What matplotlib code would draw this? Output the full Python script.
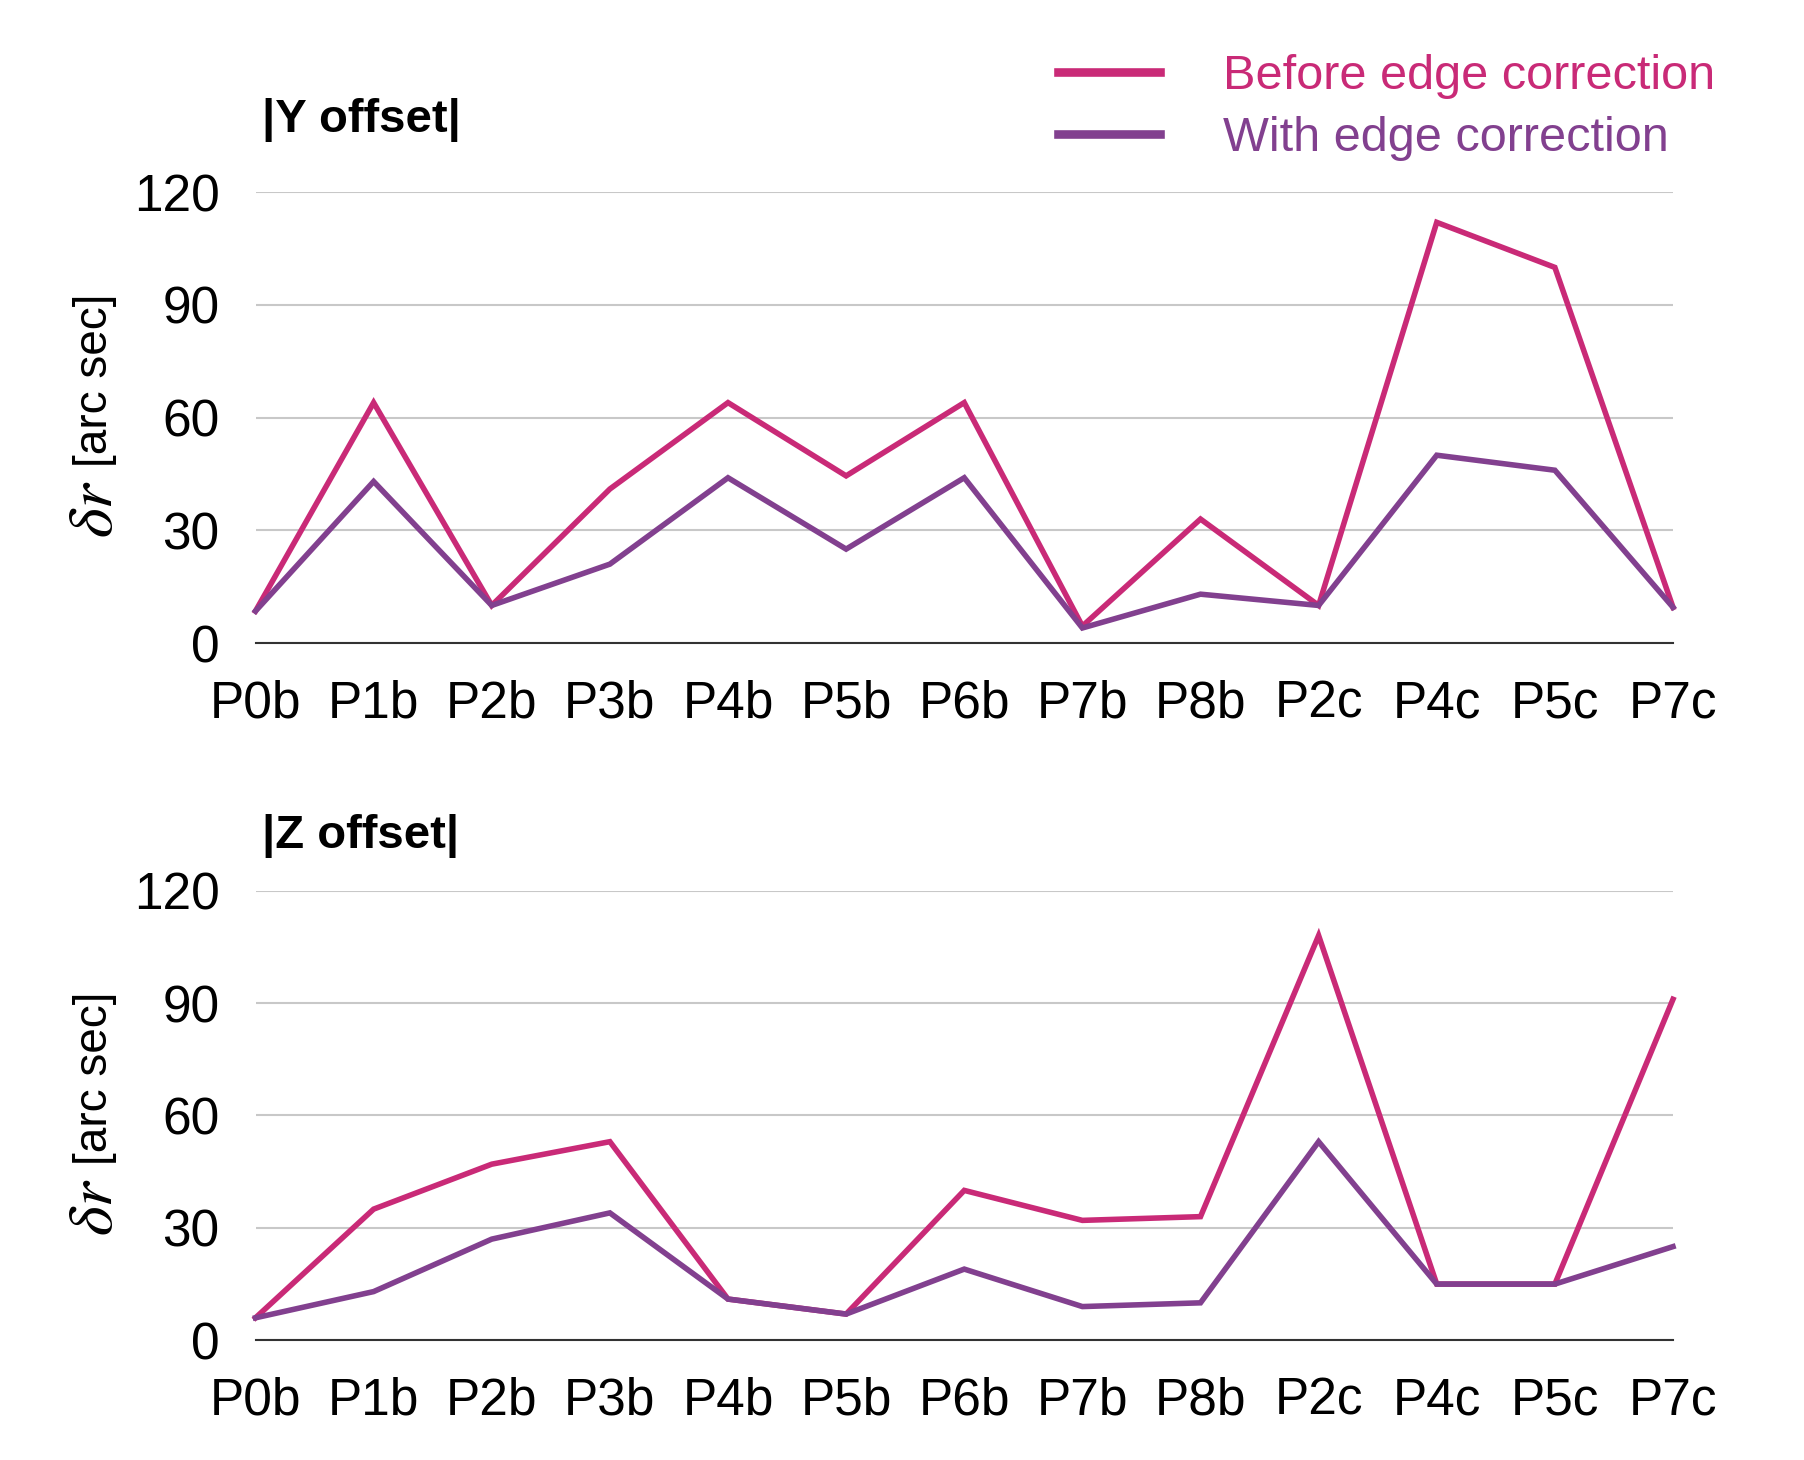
import matplotlib
matplotlib.use("Agg")
import matplotlib.pyplot as plt
from matplotlib.lines import Line2D

categories = ["P0b", "P1b", "P2b", "P3b", "P4b", "P5b", "P6b", "P7b", "P8b", "P2c", "P4c", "P5c", "P7c"]
y_before = [8.5, 64, 10, 41, 64, 44.5, 64, 4.5, 33, 10, 112, 100, 9.5]
y_with = [8.5, 43, 10, 21, 44, 25, 44, 4, 13, 10, 50, 46, 9.5]
z_before = [6, 35, 47, 53, 11, 7, 40, 32, 33, 108, 15, 15, 91]
z_with = [6, 13, 27, 34, 11, 7, 19, 9, 10, 53, 15, 15, 25]
yticks = [0, 30, 60, 90, 120]
titles = ["|Y offset|", "|Z offset|"]
series_labels = ["Before edge correction", "With edge correction"]

C_BEFORE = "#C92A77"
C_WITH = "#82408F"

plt.rcParams['font.family'] = ['Liberation Sans', 'DejaVu Sans']
plt.rcParams['mathtext.fontset'] = 'stix'

W, H = 1804, 1460
fig = plt.figure(figsize=(W / 100, H / 100), dpi=100)

def px_axes(left, right, top, bottom):
    return [left / W, 1 - bottom / H, (right - left) / W, (bottom - top) / H]

panels = [
    (px_axes(255.5, 1673, 192.3, 643), y_before, y_with, titles[0], 120),
    (px_axes(255.5, 1673, 890.6, 1340.3), z_before, z_with, titles[1], 836),
]

x = list(range(len(categories)))
lab_x = (95 - 255.5) / (1673 - 255.5)
for rect, before, with_, title, ty in panels:
    ax = fig.add_axes(rect)
    ax.plot(x, before, color=C_BEFORE, lw=4.0, solid_joinstyle='miter', zorder=3, clip_on=False)
    ax.plot(x, with_, color=C_WITH, lw=4.0, solid_joinstyle='miter', zorder=3, clip_on=False)
    ax.set_xlim(0, len(categories) - 1)
    ax.set_ylim(0, 120)
    ax.set_yticks(yticks)
    ax.set_xticks(x)
    ax.set_xticklabels(categories)
    ax.tick_params(axis='both', length=0, labelsize=37)
    ax.tick_params(axis='y', pad=26)
    ax.tick_params(axis='x', pad=26)
    for s in ['top', 'right', 'left']:
        ax.spines[s].set_visible(False)
    ax.spines['bottom'].set_color('#333333')
    ax.spines['bottom'].set_linewidth(1.5)
    ax.grid(axis='y', color='#C8C8C8', lw=1.5)
    ax.set_axisbelow(True)
    # y-axis label: large italic delta-r followed by the unit
    ax.text(lab_x, 0.582, '[arc sec]', rotation=90, fontsize=33,
            ha='center', va='center', transform=ax.transAxes)
    ax.text(lab_x, 0.296, r'$\delta r$', rotation=90, fontsize=46,
            ha='center', va='center', transform=ax.transAxes)
    fig.text(262 / W, 1 - ty / H, title, fontsize=34, fontweight='bold', va='center', ha='left')
    if title == titles[0]:
        handles = [Line2D([], [], color=C_BEFORE, lw=6.2),
                   Line2D([], [], color=C_WITH, lw=6.2)]
        leg = fig.legend(handles, series_labels, loc='upper left',
                         bbox_to_anchor=(1058 / W, 1 - 54 / H),
                         frameon=False, fontsize=35, borderpad=0, borderaxespad=0,
                         handlelength=2.1, handletextpad=1.3, labelspacing=0.35,
                         labelcolor='linecolor')

fig.savefig("out.png", dpi=100, facecolor='white')
